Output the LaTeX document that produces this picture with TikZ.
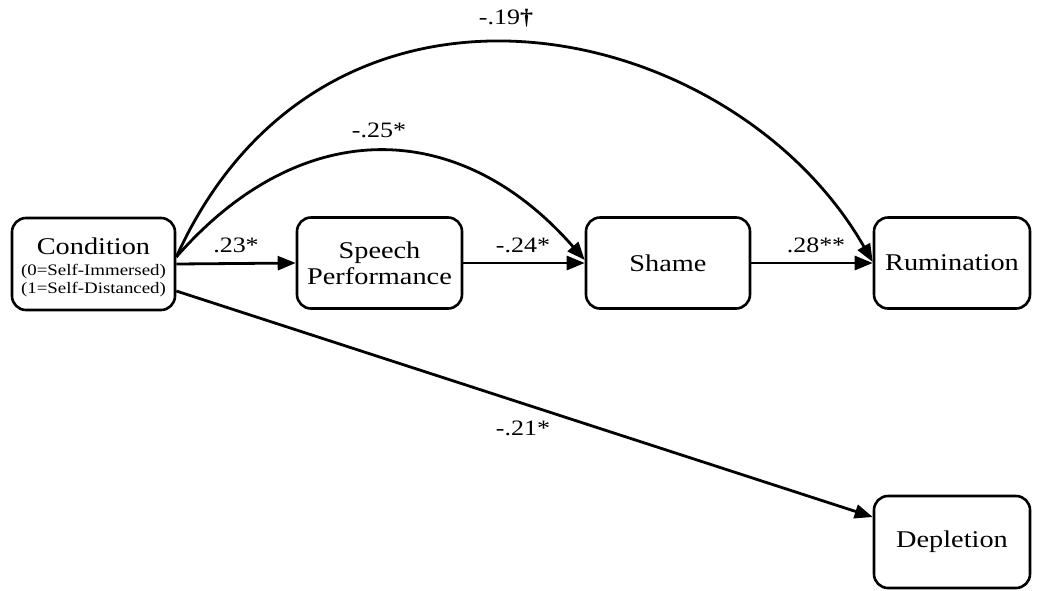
\documentclass[tikz,border=0pt]{standalone}
\usepackage{fontspec}
\setmainfont{Liberation Serif}[FakeStretch=1.18]
\usetikzlibrary{arrows.meta,calc}

\tikzset{
  varbox/.style={draw=black, line width=2.6pt, rounded corners=14pt,
    minimum width=#1, minimum height=91pt, inner sep=0pt, align=center,
    font=\fontsize{24}{26}\selectfont},
  path/.style={line width=2.8pt, -{Triangle[length=18pt,width=14pt]}},
  coef/.style={font=\fontsize{22}{24}\selectfont, inner sep=0pt}
}

\begin{document}
\begin{tikzpicture}[x=1pt, y=-1pt]
  \useasboundingbox (0,0) rectangle (1037,590);

  % variables
  \node[varbox=163pt, minimum height=92pt] (cond) at (93.5,264) {};
  \node[align=center, inner sep=0pt, font=\fontsize{24}{26}\selectfont] (condtxt)
    at ([yshift=-3pt]cond.center)
    {Condition\\[-5pt]{\fontsize{16}{18}\selectfont (0=Self-Immersed)}\\[-8pt]{\fontsize{16}{18}\selectfont (1=Self-Distanced)}};
  \node[varbox=165pt] (speech) at (379.5,263) {Speech\\Performance};
  \node[varbox=164pt] (shame) at (668,263) {Shame};
  \node[varbox=156pt] (rum) at (952,263) {Rumination};
  \node[varbox=156pt, minimum height=92pt] (depl) at (952,542) {Depletion};

  % start points on the right side of the condition box
  \coordinate (cTop) at ([yshift=7pt]cond.east);
  \coordinate (cBot) at ([yshift=-27pt]cond.east);

  % direct paths
  \draw[path] (cond.east) -- (speech.west);
  \draw[path] (speech.east) -- (shame.west);
  \draw[path] (shame.east) -- (rum.west);
  \draw[path] (cBot) -- ([yshift=25pt]depl.west);

  % curved paths
  \draw[path] (cTop) .. controls +(125,-143) and +(-125,-143) .. ([yshift=3pt]shame.west);
  \draw[path] (cTop) .. controls +(150,-330) and +(-140,-245) .. ([yshift=1pt]rum.west);

  % coefficients
  \node[coef] (l1) at (236,245) {.23*};
  \node[coef] (l2) at (523,245) {-.24*};
  \node[coef] (l3) at (816,245) {.28**};
  \node[coef] (l4) at (379,130) {-.25*};
  \node[coef] (l5) at (506,18) {-.19\textbf{†}};
  \node[coef] (l6) at (523,428) {-.21*};
\end{tikzpicture}
\end{document}
